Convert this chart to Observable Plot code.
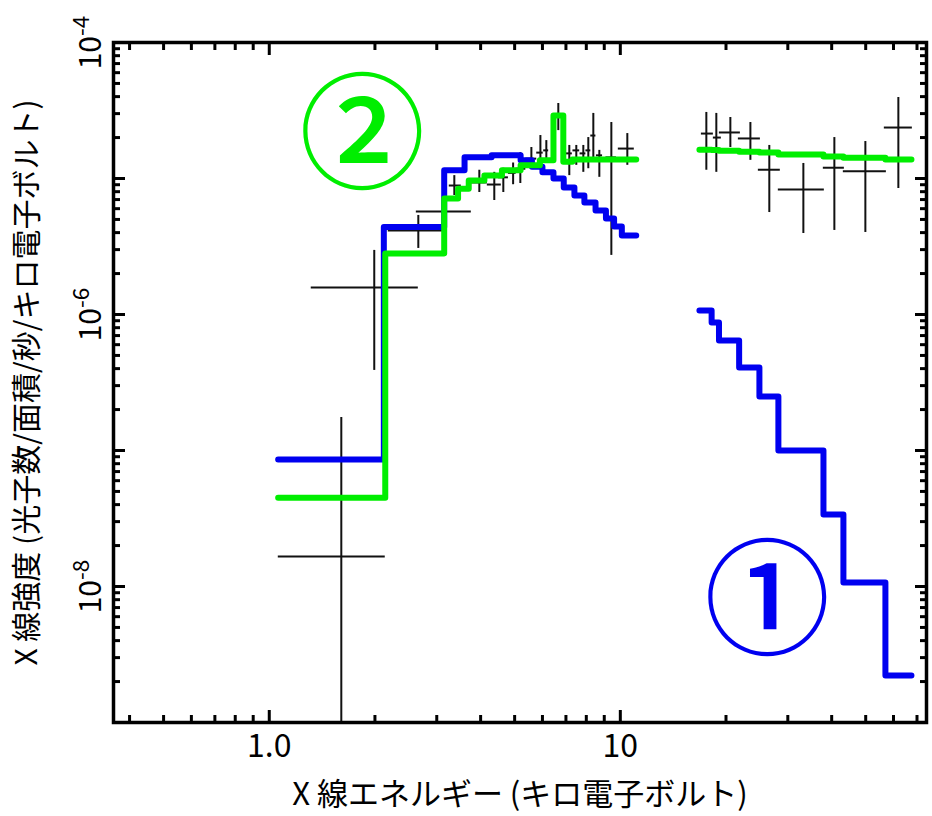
<!DOCTYPE html>
<html><head><meta charset="utf-8">
<script src="https://cdn.jsdelivr.net/npm/d3@7"></script>
<script src="https://cdn.jsdelivr.net/npm/@observablehq/plot@0.6"></script>
<style>
html,body{margin:0;padding:0;background:#fff;}
#chart{width:932px;height:816px;}
</style></head><body><div id="chart"></div>
<script>
// ---------------- data ----------------
const xLabel = "X 線エネルギー (キロ電子ボルト)";
const yLabel = "X 線強度 (光子数/面積/秒/キロ電子ボルト)";

const xTickValues = [1, 10, 70];
const xTickLabels = ["1.0", "10", "70"];
const xMajorTicks = [1, 10];
const xMinorTicks = [0.4, 0.5, 0.6, 0.7, 0.8, 0.9, 2, 3, 4, 5, 6, 7, 8, 9, 20, 30, 40, 50, 60, 70];
const yTickValues = [1e-8, 1e-6, 1e-4];
const yTickExponents = ["-8", "-6", "-4"];
const yMajorTicks = [1e-8, 1e-7, 1e-6, 1e-5, 1e-4];
const yMinorMultipliers = [2, 3, 4, 5, 6, 7, 8, 9];
const yMinorDecades = [1e-9, 1e-8, 1e-7, 1e-6, 1e-5];

// observed spectrum (energy keV with bin range, flux with error range)
const dataE   = [1.604, 1.991, 2.658, 3.131, 3.366, 3.966, 4.375, 4.642, 4.95, 5.19, 5.58, 5.92, 6.155, 6.658, 7.156, 7.492, 7.845, 8.106, 8.377, 8.714, 9.428, 10.47, 17.58, 18.77, 20.58, 23.47, 26.57, 33.22, 40.71, 49.89, 61.94];
const dataELo = [1.061, 1.317, 2.183, 2.624, 3.257, 3.763, 4.180, 4.50, 4.80, 5.05, 5.38, 5.78, 6.05, 6.444, 7.0, 7.33, 7.68, 7.98, 8.24, 8.55, 9.1, 9.87, 17.02, 18.41, 19.15, 21.69, 24.73, 28.19, 37.87, 43.18, 56.5];
const dataEHi = [2.140, 2.658, 3.131, 3.763, 3.524, 4.180, 4.581, 4.80, 5.05, 5.38, 5.78, 6.03, 6.25, 6.880, 7.3, 7.66, 7.98, 8.24, 8.52, 8.9, 9.75, 10.96, 18.41, 19.40, 21.98, 25.06, 28.56, 38.12, 43.47, 57.26, 67.9];
const dataF   = [1.66e-8, 1.58e-6, 4.15e-6, 5.72e-6, 8.88e-6, 9.35e-6, 9.03e-6, 1.02e-5, 1.10e-5, 1.18e-5, 1.40e-5, 1.55e-5, 1.61e-5, 2.90e-5, 1.53e-5, 1.61e-5, 1.53e-5, 1.61e-5, 2.07e-5, 1.48e-5, 1.43e-5, 1.66e-5, 2.14e-5, 2.00e-5, 2.18e-5, 1.97e-5, 1.16e-5, 8.30e-6, 1.20e-5, 1.13e-5, 2.37e-5];
const dataFLo = [1e-10, 3.88e-7, 3.06e-6, 4.67e-6, 7.50e-6, 7.89e-6, 6.89e-6, 7.89e-6, 9.0e-6, 9.19e-6, 1.20e-5, 1.31e-5, 1.40e-5, 2.25e-5, 1.05e-5, 1.25e-5, 1.11e-5, 1.18e-5, 1.40e-5, 1.02e-5, 2.72e-6, 1.25e-5, 1.15e-5, 1.11e-5, 1.69e-5, 1.36e-5, 5.62e-6, 3.94e-6, 4.15e-6, 4.01e-6, 8.44e-6];
const dataFHi = [1.75e-7, 2.96e-6, 5.35e-6, 6.89e-6, 1.05e-5, 1.15e-5, 1.11e-5, 1.19e-5, 1.30e-5, 1.55e-5, 1.69e-5, 2.07e-5, 1.90e-5, 3.56e-5, 1.75e-5, 1.75e-5, 1.75e-5, 2.00e-5, 3.01e-5, 1.61e-5, 2.58e-5, 2.14e-5, 3.06e-5, 3.01e-5, 2.81e-5, 2.58e-5, 1.75e-5, 1.29e-5, 2.00e-5, 1.87e-5, 3.94e-5];

// model ① (blue) – binned step functions
const blueLowEdges = [1.06, 2.12, 3.15, 3.6, 4.3, 5.2, 5.6, 6.0, 6.45, 6.9, 7.4, 7.9, 8.5, 9.1, 9.6, 10.1, 11.1];
const blueLowFlux  = [8.6e-8, 4.4e-6, 1.15e-5, 1.43e-5, 1.48e-5, 1.36e-5, 1.22e-5, 1.11e-5, 1.0e-5, 8.6e-6, 7.5e-6, 6.67e-6, 5.82e-6, 5.08e-6, 4.44e-6, 3.81e-6];
const blueHighEdges = [16.8, 18.2, 19.1, 21.8, 24.9, 28.2, 37.9, 43.2, 56.9, 67.5];
const blueHighFlux  = [1.07e-6, 8.73e-7, 6.44e-7, 4.07e-7, 2.49e-7, 1.0e-7, 3.38e-8, 1.07e-8, 2.22e-9];

// model ② (green)
const greenLowEdges = [1.06, 2.14, 3.15, 3.45, 3.7, 4.1, 4.6, 5.2, 5.9, 6.45, 6.88, 7.3, 11.1];
const greenLowFlux  = [4.5e-8, 2.81e-6, 7.13e-6, 8.4e-6, 9.66e-6, 1.05e-5, 1.15e-5, 1.25e-5, 1.36e-5, 2.9e-5, 1.33e-5, 1.38e-5];
const greenHighEdges = [16.8, 18.2, 19.1, 21.8, 24.9, 28.2, 37.9, 43.2, 56.9, 67.5];
const greenHighFlux  = [1.63e-5, 1.62e-5, 1.60e-5, 1.57e-5, 1.55e-5, 1.50e-5, 1.45e-5, 1.42e-5, 1.38e-5];

// annotations
const annotText = ["①", "②"];
const annotE = [26.2, 1.84];
const annotF = [7.4e-9, 1.95e-5];
const annotColor = ["#0000f0", "#00ee00"];

// ---------------- build ----------------
const BLUE = "#0000f0", GREEN = "#00ee00";
const FONT = "'Noto Sans CJK JP', 'Noto Sans', sans-serif";

const points = dataE.map((e, i) => ({e, elo: dataELo[i], ehi: dataEHi[i], f: dataF[i], flo: dataFLo[i], fhi: dataFHi[i]}));
function steps(edges, vals) {
  const out = vals.map((v, i) => ({e: edges[i], f: v}));
  out.push({e: edges[edges.length - 1], f: vals[vals.length - 1]});
  return out;
}
const yMinorTicks = yMinorDecades.flatMap(d => yMinorMultipliers.map(m => m * d));
const annots = annotText.map((t, i) => ({t, e: annotE[i], f: annotF[i], c: annotColor[i]}));

const lineOpts = (color) => ({x: "e", y: "f", curve: "step-after", stroke: color, strokeWidth: 6, strokeLinecap: "round", strokeLinejoin: "round"});

function inward(axisFn, anchor, values, size) {
  return axisFn(values, {anchor, tickSize: -size, strokeWidth: 3, tickFormat: () => "", label: null});
}

const chart = Plot.plot({
  width: 932, height: 816,
  marginLeft: 113, marginRight: 6, marginTop: 42, marginBottom: 94,
  style: {fontFamily: FONT, fontSize: "30px", background: "#fff", color: "#000"},
  x: {type: "log", domain: [0.36, 74.5], axis: null},
  y: {type: "log", domain: [1e-9, 1e-4], axis: null},
  marks: [
    // error crosses
    Plot.ruleY(points, {y: "f", x1: "elo", x2: "ehi", stroke: "#111", strokeWidth: 2, clip: true}),
    Plot.ruleX(points, {x: "e", y1: "flo", y2: "fhi", stroke: "#111", strokeWidth: 2, clip: true}),
    // models
    Plot.line(steps(blueLowEdges, blueLowFlux), lineOpts(BLUE)),
    Plot.line(steps(blueHighEdges, blueHighFlux), lineOpts(BLUE)),
    Plot.line(steps(greenLowEdges, greenLowFlux), lineOpts(GREEN)),
    Plot.line(steps(greenHighEdges, greenHighFlux), lineOpts(GREEN)),
    // annotations
    Plot.text(annots, {x: "e", y: "f", text: "t", fill: "c", fontSize: 126, fontWeight: 500, fontFamily: FONT, textAnchor: "middle", lineAnchor: "middle"}),
    // inward ticks on all four sides
    inward(Plot.axisX, "bottom", xMajorTicks, 12),
    inward(Plot.axisX, "bottom", xMinorTicks, 7),
    inward(Plot.axisX, "top", xMajorTicks, 12),
    inward(Plot.axisX, "top", xMinorTicks, 7),
    inward(Plot.axisY, "left", yMajorTicks, 12),
    inward(Plot.axisY, "left", yMinorTicks, 7),
    inward(Plot.axisY, "right", yMajorTicks, 12),
    inward(Plot.axisY, "right", yMinorTicks, 7),
    // tick labels
    Plot.axisX(xTickValues, {anchor: "bottom", tickSize: 0, tickPadding: 12, fontSize: 32,
      tickFormat: d => xTickLabels[xTickValues.indexOf(d)], label: null}),
    Plot.axisY(yTickValues, {anchor: "left", tickSize: 0, tickPadding: 13, tickRotate: -90, fontSize: 30,
      tickFormat: d => "10^" + yTickExponents[yTickValues.indexOf(d)], label: null}),
    // axis titles
    Plot.text([xLabel], {ariaLabel: "x-title", frameAnchor: "bottom", dy: 73, text: d => d, fontSize: 31, fontFamily: FONT, textAnchor: "middle", lineAnchor: "middle"}),
    Plot.text([yLabel], {ariaLabel: "y-title", frameAnchor: "left", dx: -86, rotate: -90, text: d => d, fontSize: 30, fontFamily: FONT, textAnchor: "middle", lineAnchor: "middle"}),
    Plot.frame({stroke: "#000", strokeWidth: 3.5})
  ]
});

// superscript exponents on the y tick labels
d3.select(chart).selectAll('g[aria-label="y-axis tick label"] text').each(function () {
  const t = d3.select(this);
  const s = t.text();
  const parts = s.split("^");
  if (parts.length !== 2) return;
  t.text(null);
  t.append("tspan").text(parts[0]);
  t.append("tspan").attr("dy", "-0.5em").attr("font-size", "0.75em").text(parts[1]);
});
// wider tracking on the axis titles, as in the original typesetting
d3.select(chart).selectAll('g[aria-label="y-title"] text').style("letter-spacing", "3.5px");
d3.select(chart).selectAll('g[aria-label="x-title"] text').style("letter-spacing", "1px");

document.getElementById("chart").appendChild(chart);
</script>
</body></html>
